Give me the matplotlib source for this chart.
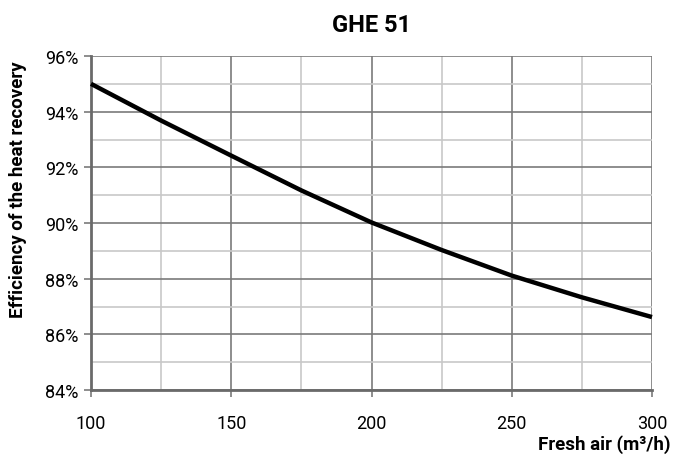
import matplotlib
matplotlib.use("Agg")
import matplotlib.pyplot as plt
from matplotlib.ticker import MultipleLocator, FuncFormatter

plt.rcParams['font.family'] = ['Liberation Sans Narrow', 'Roboto', 'DejaVu Sans']

# data
airflow = [100, 125, 150, 175, 200, 225, 250, 275, 300]
efficiency = [95.0, 93.68, 92.42, 91.17, 90.02, 89.03, 88.11, 87.33, 86.62]
x_ticks = [100, 150, 200, 250, 300]

fig = plt.figure(figsize=(6.73, 4.56), dpi=100)
ax = fig.add_axes([91/673, 1-391/456, (652-91)/673, (391-57)/456])

ax.set_xlim(100, 300)
ax.set_ylim(84, 96)
ax.set_xticks(x_ticks)
ax.yaxis.set_major_locator(MultipleLocator(2))
ax.xaxis.set_minor_locator(MultipleLocator(25))
ax.yaxis.set_minor_locator(MultipleLocator(1))
ax.yaxis.set_major_formatter(FuncFormatter(lambda v, p: f"{v:.0f}%"))

ax.grid(which='major', color='#7a7a7a', lw=1.2)
ax.grid(which='minor', color='#c8c8c8', lw=1.2)
ax.set_axisbelow(True)

for s in ['top', 'right']:
    ax.spines[s].set_visible(False)
for s in ['left', 'bottom']:
    ax.spines[s].set_color('#6a6a6a')
    ax.spines[s].set_linewidth(2)

ax.tick_params(which='major', length=5, width=1.2, color='#7a7a7a', labelsize=13)
ax.tick_params(which='minor', length=0)
ax.tick_params(axis='x', pad=12)
ax.tick_params(axis='y', pad=4)

ax.plot(airflow, efficiency, color='black', lw=3.2, solid_capstyle='butt', clip_on=False, zorder=5)

fig.text(371/673, 1-25/456, "GHE 51", ha='center', va='center', fontsize=17, fontweight='bold')
fig.text(18/673, 1-190/456, "Efficiency of the heat recovery", rotation=90, ha='center', va='center',
         fontsize=13.5, fontweight='bold')
fig.text(671/673, 1-445/456, "Fresh air (m³/h)", ha='right', va='center', fontsize=13.5, fontweight='bold')

fig.savefig("out.png", dpi=100)
